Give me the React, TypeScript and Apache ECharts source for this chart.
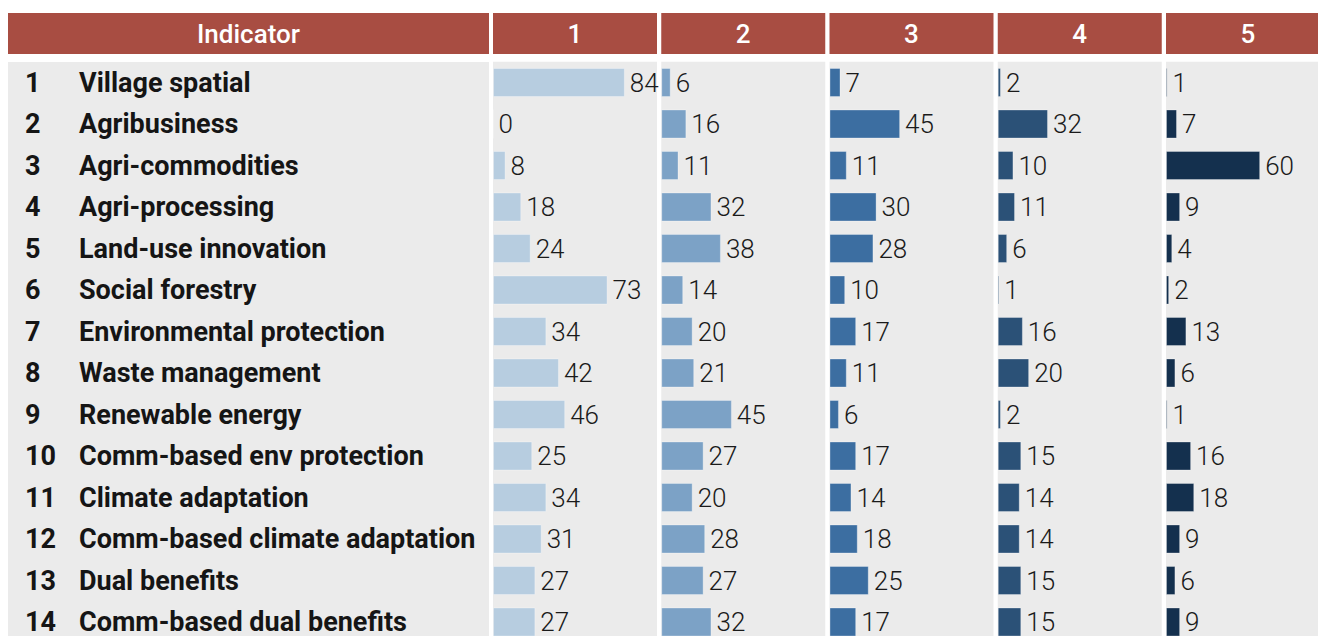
import React, { useEffect, useRef } from "react";
import * as echarts from "echarts";

const indicators = [
  "Village spatial",
  "Agribusiness",
  "Agri-commodities",
  "Agri-processing",
  "Land-use innovation",
  "Social forestry",
  "Environmental protection",
  "Waste management",
  "Renewable energy",
  "Comm-based env protection",
  "Climate adaptation",
  "Comm-based climate adaptation",
  "Dual benefits",
  "Comm-based dual benefits",
];
const firstHeader = "Indicator";
const columnHeaders = ["1", "2", "3", "4", "5"];
const col1 = [84, 0, 8, 18, 24, 73, 34, 42, 46, 25, 34, 31, 27, 27];
const col2 = [6, 16, 11, 32, 38, 14, 20, 21, 45, 27, 20, 28, 27, 32];
const col3 = [7, 45, 11, 30, 28, 10, 17, 11, 6, 17, 14, 18, 25, 17];
const col4 = [2, 32, 10, 11, 6, 1, 16, 20, 2, 15, 14, 14, 15, 15];
const col5 = [1, 7, 60, 9, 4, 2, 13, 6, 1, 16, 18, 9, 6, 9];
const columns = [col1, col2, col3, col4, col5];
const barColors = ["#b7cde0", "#7ca2c6", "#3c6ea1", "#2b5177", "#14304e"];

const W = 1318;
const H = 636;
const gridLefts = [493, 661.25, 829.5, 997.75, 1166];
const gridWidth = 164;
const bodyTop = 62;
const rowH = 41.5;
const gridTop = 82.5 - rowH / 2;
const gridHeight = rowH * indicators.length;
const headerTop = 13;
const headerH = 41;
const red = "#a84d42";
const gray = "#ebebeb";
const font = "Roboto";

export default function App() {
  const ref = useRef<HTMLDivElement>(null);
  useEffect(() => {
    document.body.style.margin = "0";
    const chart = echarts.init(ref.current!, null, { renderer: "svg" });
    const grids = gridLefts.map((left) => ({
      left,
      top: gridTop,
      width: gridWidth,
      height: gridHeight,
      show: true,
      backgroundColor: gray,
      borderWidth: 0,
      containLabel: false,
      outerBoundsMode: "none",
    }));
    const xAxes = gridLefts.map((_, i) => ({
      type: "value",
      gridIndex: i,
      min: 0,
      max: 104.5,
      show: false,
    }));
    const yAxes = gridLefts.map((_, i) => ({
      type: "category",
      gridIndex: i,
      data: indicators,
      inverse: true,
      axisLine: { show: false },
      axisTick: { show: false },
      splitLine: { show: false },
      axisLabel:
        i === 0
          ? {
              show: true,
              margin: 493 - 25,
              align: "left",
              formatter: (v: string, idx: number) => `{n|${idx + 1}}{t|${v}}`,
              rich: {
                n: { width: 54, fontSize: 27, fontWeight: "bold", color: "#151515", fontFamily: font },
                t: { fontSize: 27, fontWeight: "bold", color: "#151515", fontFamily: font },
              },
            }
          : { show: false },
    }));
    const series = columns.map((data, i) => ({
      type: "bar",
      xAxisIndex: i,
      yAxisIndex: i,
      data,
      barWidth: 29,
      itemStyle: {
        color: barColors[i],
        borderColor: "rgba(255,255,255,0.3)",
        borderWidth: 1,
      },
      label: {
        show: true,
        position: "right",
        distance: 5,
        fontSize: 26,
        fontWeight: 300,
        fontFamily: font,
        color: "#1a1a1a",
      },
    }));
    const headerCells = [
      { x: 8, w: 481, text: firstHeader },
      ...gridLefts.map((left, i) => ({ x: left, w: gridWidth, text: columnHeaders[i] })),
    ];
    const graphic: any[] = [
      {
        type: "rect",
        shape: { x: 8, y: bodyTop, width: 481, height: H - bodyTop },
        style: { fill: gray },
        z: -1,
      },
    ];
    headerCells.forEach((c) => {
      graphic.push({
        type: "rect",
        shape: { x: c.x, y: headerTop, width: c.w, height: headerH },
        style: { fill: red },
      });
      graphic.push({
        type: "text",
        x: c.x + c.w / 2,
        y: headerTop + headerH / 2,
        style: {
          text: c.text,
          fill: "#ffffff",
          fontSize: 26,
          fontWeight: 500,
          fontFamily: font,
          align: "center",
          verticalAlign: "middle",
        },
      });
    });
    chart.setOption({
      animation: false,
      backgroundColor: "#ffffff",
      grid: grids,
      xAxis: xAxes,
      yAxis: yAxes,
      series,
      graphic,
    });
    return () => chart.dispose();
  }, []);
  return <div ref={ref} style={{ width: W, height: H }} />;
}
